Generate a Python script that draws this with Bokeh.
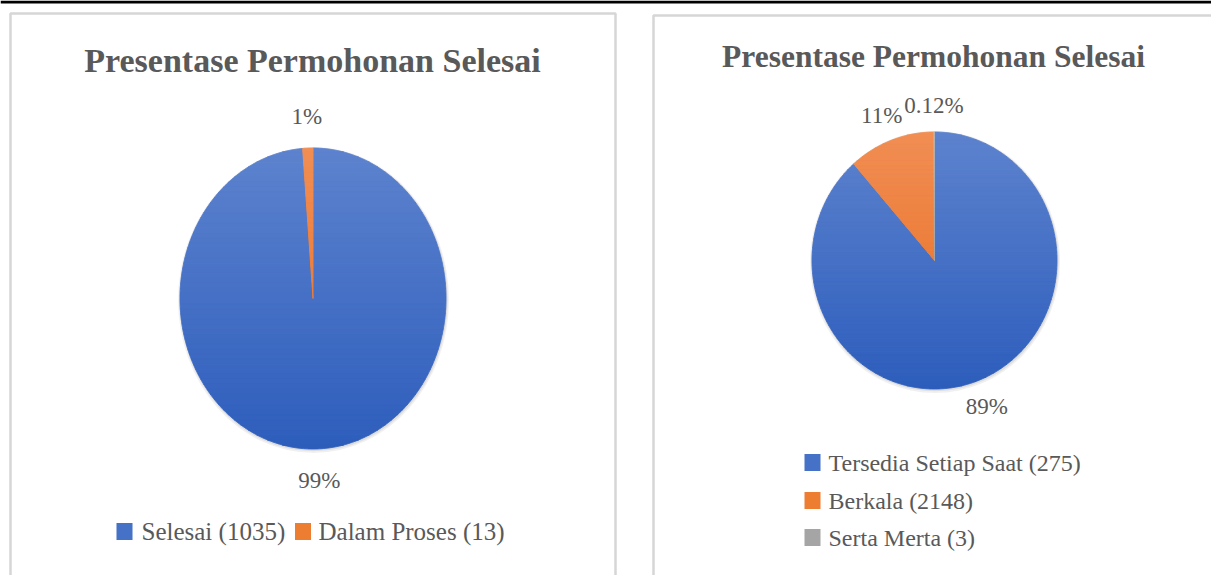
import numpy as np
from bokeh.plotting import figure
from bokeh.models import Range1d, ColumnDataSource
from bokeh.core.properties import value
from bokeh.embed import file_html
from bokeh.resources import INLINE

# ---------------- data ----------------
title_text = "Presentase Permohonan Selesai"

left_labels = ["Selesai (1035)", "Dalam Proses (13)"]
left_values = [1035, 13]
left_pct_labels = ["99%", "1%"]

right_labels = ["Tersedia Setiap Saat (275)", "Berkala (2148)", "Serta Merta (3)"]
right_values = [2148, 275, 3]          # slice sizes as drawn (blue, orange, gray)
right_pct_labels = ["89%", "11%", "0.12%"]

colors = ["#4571C7", "#ED7D31", "#A5A5A5"]
grad_top = [(93, 131, 206), (241, 142, 84), (178, 178, 178)]
grad_bot = [(45, 93, 188), (232, 108, 30), (150, 150, 150)]

W, H = 1211, 575
FONT = value("Liberation Serif")
TXT = "#595959"

p = figure(width=W, height=H, x_range=Range1d(0, W), y_range=Range1d(H, 0),
           x_axis_location=None, y_axis_location=None, toolbar_location=None,
           output_backend="svg", min_border=0)
p.grid.visible = False
p.outline_line_color = None
p.background_fill_color = "white"
p.border_fill_color = "white"

# top black bar
p.quad(left=[0], right=[W], top=[0], bottom=[3], fill_color="black", line_color=None)

# panel frames
p.quad(left=[10, 653], right=[615, 1240], top=[13, 15], bottom=[600, 600],
       fill_color="white", line_color="#d6d6d6", line_width=2.5)


def clip_half(poly, keep, cross):
    out = []
    n = len(poly)
    for i in range(n):
        a = poly[i]
        b = poly[(i + 1) % n]
        ka, kb = keep(a), keep(b)
        if ka:
            out.append(a)
            if not kb:
                out.append(cross(a, b))
        elif kb:
            out.append(cross(a, b))
    return out


def at_y(y):
    def f(a, b):
        t = (y - a[1]) / (b[1] - a[1])
        return (a[0] + t * (b[0] - a[0]), y)
    return f


def hexc(c):
    return "#%02x%02x%02x" % tuple(int(round(v)) for v in c)


def pie(cx, cy, rx, ry, vals, pct_labels, lab_r=1.21, nb=60):
    vals = np.asarray(vals, dtype=float)
    frac = vals / vals.sum()
    ends = np.cumsum(frac) * 2 * np.pi
    starts = np.concatenate([[0.0], ends[:-1]])
    # soft shadow
    p.ellipse(x=[cx + 0.5], y=[cy + 1.5], width=[2 * rx + 5], height=[2 * ry + 5],
              fill_color="#000000", fill_alpha=0.06, line_color=None)
    p.ellipse(x=[cx + 0.5], y=[cy + 1], width=[2 * rx + 2.5], height=[2 * ry + 2.5],
              fill_color="#000000", fill_alpha=0.08, line_color=None)
    xs, ys, cs = [], [], []
    lx, ly = [], []
    edges = np.linspace(cy - ry - 1, cy + ry + 1, nb + 1)
    for k, (s, e) in enumerate(zip(starts, ends)):
        t = np.linspace(s, e, max(3, int((e - s) / 0.005)))
        poly = [(cx, cy)] + [(cx + rx * np.sin(a), cy - ry * np.cos(a)) for a in t]
        top, bot = np.array(grad_top[k]), np.array(grad_bot[k])
        for j in range(nb):
            y0, y1 = edges[j], edges[j + 1]
            q = clip_half(poly, lambda pt: pt[1] >= y0, at_y(y0))
            if len(q) < 3:
                continue
            q = clip_half(q, lambda pt: pt[1] <= y1, at_y(y1))
            if len(q) < 3:
                continue
            f = (j + 0.5) / nb
            xs.append([pt[0] for pt in q])
            ys.append([pt[1] for pt in q])
            cs.append(hexc(top + (bot - top) * f))
        m = (s + e) / 2
        lx.append(cx + lab_r * rx * np.sin(m))
        ly.append(cy - lab_r * ry * np.cos(m))
    src = ColumnDataSource(dict(xs=xs, ys=ys, c=cs))
    p.patches("xs", "ys", source=src, fill_color="c", line_color="c", line_width=1.0)
    p.text(x=lx, y=ly, text=pct_labels, text_font=FONT, text_font_size="23px",
           text_color=TXT, text_align="center", text_baseline="middle")


# left panel
p.text(x=[312], y=[60], text=[title_text], text_font=FONT, text_font_style="bold",
       text_font_size="34px", text_color=TXT, text_align="center", text_baseline="middle")
pie(312.5, 298, 133, 150.5, left_values, left_pct_labels)

# left legend (horizontal)
p.rect(x=[124, 302.5], y=[531, 531], width=16, height=17, fill_color=colors[:2], line_color=None)
p.text(x=[141, 318], y=[531, 531], text=left_labels, text_font=FONT, text_font_size="25px",
       text_color=TXT, text_align="left", text_baseline="middle")

# right panel
p.text(x=[933], y=[56], text=[title_text], text_font=FONT, text_font_style="bold",
       text_font_size="31.5px", text_color=TXT, text_align="center", text_baseline="middle")
pie(934, 260, 122.5, 128.5, right_values, right_pct_labels)

ry_leg = [462, 500, 537]
p.rect(x=[812] * 3, y=ry_leg, width=16, height=17, fill_color=colors, line_color=None)
p.text(x=[828] * 3, y=ry_leg, text=right_labels, text_font=FONT, text_font_size="24px",
       text_color=TXT, text_align="left", text_baseline="middle")

open("out.html", "w").write(file_html(p, INLINE))
